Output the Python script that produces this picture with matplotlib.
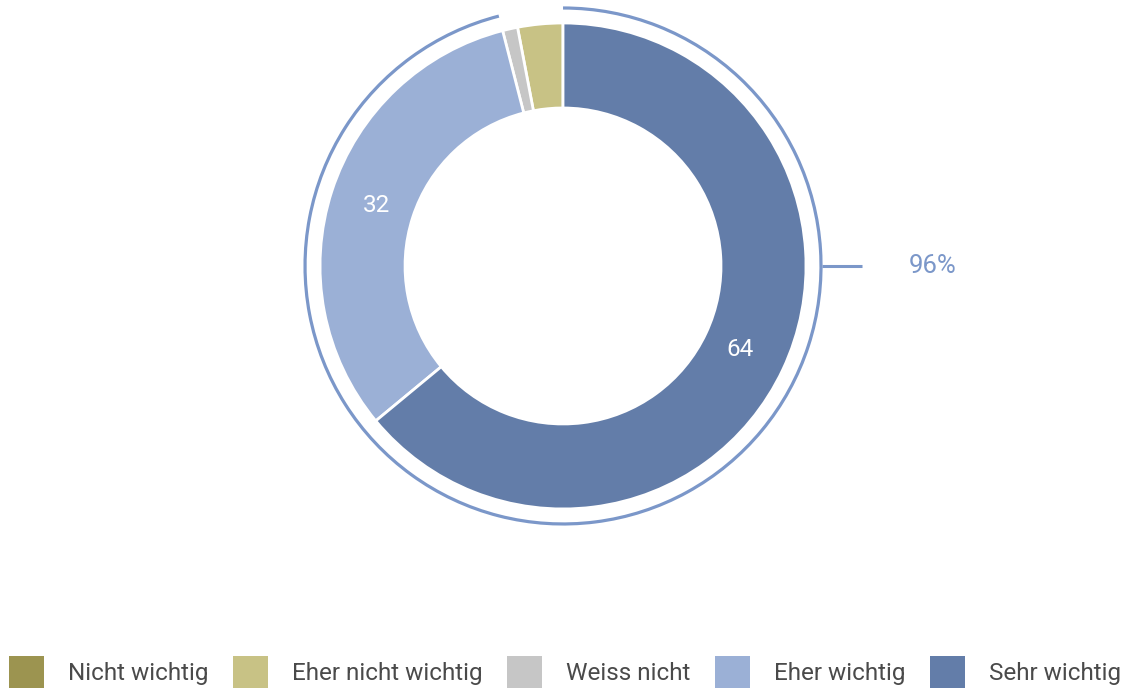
import matplotlib.pyplot as plt
from matplotlib.patches import Arc, Patch
import numpy as np

plt.rcParams['font.family'] = ['Roboto', 'DejaVu Sans']

categories = ['Nicht wichtig', 'Eher nicht wichtig', 'Weiss nicht', 'Eher wichtig', 'Sehr wichtig']
values = [0, 3, 1, 32, 64]
colors = ['#9c9450', '#c8c285', '#c6c6c6', '#9bb0d6', '#637da9']
summary_label = '96%'
summary_share = (values[3] + values[4]) / sum(values)

fig = plt.figure(figsize=(11.3, 6.88), dpi=100)
ax = fig.add_axes([0.2617, 0.2249, 0.4731, 0.777])

ring = 85 / 243
ax.pie(values, colors=colors, startangle=90, counterclock=True, radius=1,
       wedgeprops=dict(width=ring, edgecolor='white', linewidth=2),
       autopct=lambda p: f'{p:.0f}' if p > 5 else '', pctdistance=0.805,
       textprops=dict(color='white', fontsize=17.5))

# outer arc around the "wichtig" share, running clockwise from 12 o'clock
arc_r = 258 / 243
ax.add_patch(Arc((0, 0), 2 * arc_r, 2 * arc_r, theta1=90 - 360 * summary_share + 360,
                 theta2=450, color='#7b97c9', lw=2.3, clip_on=False))
ax.plot([1.066, 1.23], [0, 0], color='#7b97c9', lw=2.2, solid_capstyle='butt', clip_on=False)
ax.text(1.52, 0, summary_label, color='#7b97c9', fontsize=18.5, ha='center', va='center')

ax.set_xlim(-1.1, 1.1)
ax.set_ylim(-1.1, 1.1)
ax.set_aspect('equal')
ax.axis('off')

handles = [Patch(facecolor=c, edgecolor='none') for c in colors]
fig.legend(handles, categories, loc='lower center', bbox_to_anchor=(0.5, -0.015), ncol=5,
           frameon=False, fontsize=17.5, labelcolor='#4a4a4a', handlelength=1.44,
           handleheight=1.71, handletextpad=1.0, columnspacing=1.0, borderaxespad=0.0)

fig.savefig('out.png', dpi=100)
